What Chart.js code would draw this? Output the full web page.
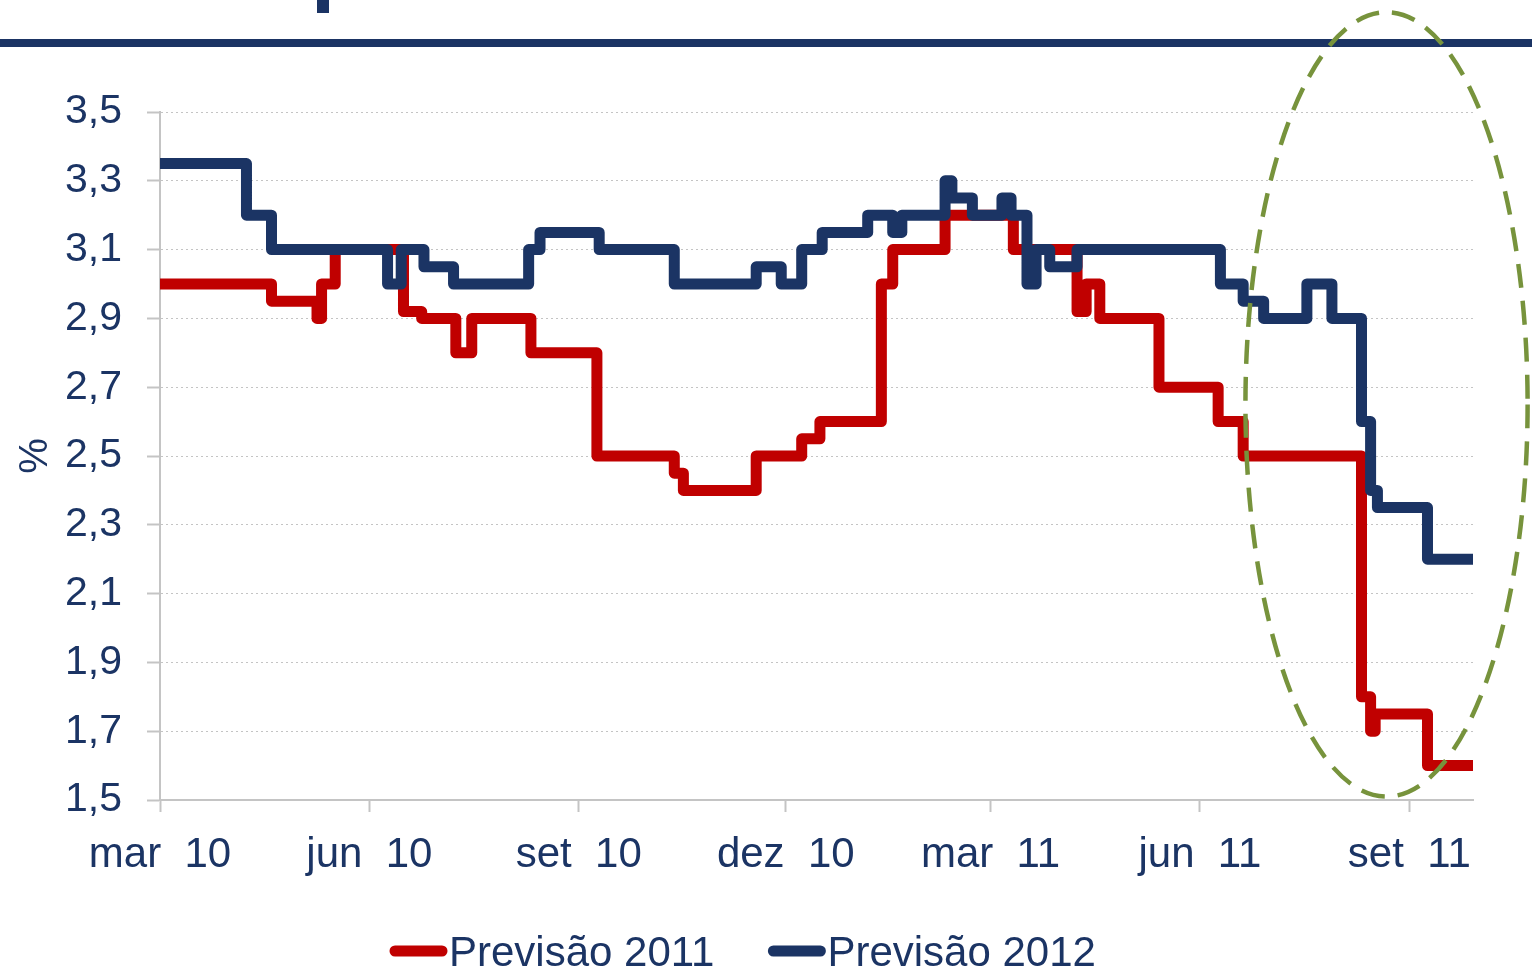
<!DOCTYPE html>
<html lang="pt-BR">
<head>
<meta charset="utf-8">
<title>Previsão 2011 e 2012</title>
<script src="https://cdn.jsdelivr.net/npm/chart.js@4.4.1/dist/chart.umd.min.js"></script>
<style>
  html, body { margin: 0; padding: 0; background: #fff; }
  canvas { display: block; }
</style>
</head>
<body>
<canvas id="previsoes" width="1532" height="971"></canvas>
<script>
const NAVY = '#1b3464';
const RED = '#c00000';
const GRID = '#c4c4c4';
const OLIVE = '#77933c';

// eixo x: dias contados a partir de 1 mar 2010
const startDate = '2010-03-01';
const endDate = '2011-09-29';
const tickDates = ['2010-03-01', '2010-06-01', '2010-09-01', '2010-12-01', '2011-03-01', '2011-06-01', '2011-09-01'];
const tickLabels = ['mar  10', 'jun  10', 'set  10', 'dez  10', 'mar  11', 'jun  11', 'set  11'];

// Previsão 2011 (cada valor vale até a data seguinte)
const dates2011 = [
    '2010-03-01', '2010-04-19', '2010-05-09', '2010-05-11', '2010-05-17', '2010-06-16', '2010-06-24',
    '2010-07-09', '2010-07-16', '2010-08-11', '2010-09-09', '2010-10-13', '2010-10-17', '2010-11-18',
    '2010-12-08', '2010-12-16', '2011-01-12', '2011-01-17', '2011-02-09', '2011-03-11', '2011-04-08',
    '2011-04-12', '2011-04-18', '2011-05-14', '2011-06-09', '2011-06-20', '2011-08-11', '2011-08-15',
    '2011-08-17', '2011-09-09', '2011-09-29'
];
const prev2011 = [
    3.00, 2.95, 2.90, 3.00, 3.10, 2.92, 2.90,
    2.80, 2.90, 2.80, 2.50, 2.45, 2.40, 2.50,
    2.55, 2.60, 3.00, 3.10, 3.20, 3.10, 2.92,
    3.00, 2.90, 2.70, 2.60, 2.50, 1.80, 1.70,
    1.75, 1.60, 1.60
];

// Previsão 2012
const dates2012 = [
    '2010-03-01', '2010-04-08', '2010-04-19', '2010-06-09', '2010-06-15', '2010-06-25', '2010-07-08',
    '2010-08-10', '2010-08-15', '2010-09-10', '2010-10-13', '2010-11-18', '2010-11-29', '2010-12-08',
    '2010-12-17', '2011-01-06', '2011-01-17', '2011-01-21', '2011-02-09', '2011-02-12', '2011-02-21',
    '2011-03-06', '2011-03-10', '2011-03-17', '2011-03-21', '2011-03-27', '2011-04-08', '2011-06-10',
    '2011-06-20', '2011-06-29', '2011-07-18', '2011-07-29', '2011-08-11', '2011-08-15', '2011-08-18',
    '2011-09-09', '2011-09-29'
];
const prev2012 = [
    3.35, 3.20, 3.10, 3.00, 3.10, 3.05, 3.00,
    3.10, 3.15, 3.10, 3.00, 3.05, 3.00, 3.10,
    3.15, 3.20, 3.15, 3.20, 3.30, 3.25, 3.20,
    3.25, 3.20, 3.00, 3.10, 3.05, 3.10, 3.00,
    2.95, 2.90, 3.00, 2.90, 2.60, 2.40, 2.35,
    2.20, 2.20
];

const yMin = 1.5;
const yMax = 3.5;
const yStep = 0.2;

// destaque tracejado em volta das últimas semanas
const highlightCenter = '2011-08-22';
const highlightValue = 2.65;
const highlightHalfDays = 62;
const highlightHalfValue = 1.14;

function dayOf(s) {
    const [y, m, d] = s.split('-').map(Number);
    const [y0, m0, d0] = startDate.split('-').map(Number);
    return (Date.UTC(y, m - 1, d) - Date.UTC(y0, m0 - 1, d0)) / 86400000;
}

const tickDays = tickDates.map(dayOf);
const toPoints = (dates, values) => dates.map((d, i) => ({ x: dayOf(d), y: values[i] }));

Chart.defaults.font.family = '"Liberation Sans", Arial, sans-serif';
Chart.defaults.color = NAVY;

const pageFrame = {
    id: 'pageFrame',
    beforeDraw(chart) {
        const { ctx, width } = chart;
        ctx.save();
        ctx.fillStyle = '#fff';
        ctx.fillRect(0, 0, width, chart.height);
        ctx.fillStyle = NAVY;
        ctx.fillRect(0, 39, width, 8);
        ctx.fillRect(317, 0, 12, 13);
        ctx.restore();
    }
};

const highlight = {
    id: 'highlight',
    afterDraw(chart) {
        const { ctx, scales: { x, y } } = chart;
        const cx = x.getPixelForValue(dayOf(highlightCenter));
        const cy = y.getPixelForValue(highlightValue);
        const rx = x.getPixelForValue(dayOf(highlightCenter) + highlightHalfDays) - cx;
        const ry = cy - y.getPixelForValue(highlightValue + highlightHalfValue);
        ctx.save();
        ctx.strokeStyle = OLIVE;
        ctx.lineWidth = 4.5;
        ctx.setLineDash([24, 13]);
        ctx.beginPath();
        ctx.ellipse(cx, cy, rx, ry, 0, 0, Math.PI * 2);
        ctx.stroke();
        ctx.restore();
    }
};

// legenda desenhada à mão: traço grosso + texto colado
const lineLegend = {
    id: 'lineLegend',
    afterDraw(chart) {
        const { ctx } = chart;
        let x = 390;
        const y = 951;
        ctx.save();
        ctx.font = '42px "Liberation Sans", Arial, sans-serif';
        ctx.textBaseline = 'middle';
        chart.data.datasets.forEach((ds) => {
            ctx.strokeStyle = ds.borderColor;
            ctx.lineWidth = 11;
            ctx.lineCap = 'round';
            ctx.beginPath();
            ctx.moveTo(x + 5, y);
            ctx.lineTo(x + 52, y);
            ctx.stroke();
            ctx.fillStyle = NAVY;
            ctx.fillText(ds.label, x + 59, y + 3);
            x += 59 + ctx.measureText(ds.label).width + 54;
        });
        ctx.restore();
    }
};

new Chart(document.getElementById('previsoes'), {
    type: 'line',
    data: {
        datasets: [
            {
                label: 'Previsão 2011',
                data: toPoints(dates2011, prev2011),
                borderColor: RED,
                backgroundColor: RED,
                order: 1
            },
            {
                label: 'Previsão 2012',
                data: toPoints(dates2012, prev2012),
                borderColor: NAVY,
                backgroundColor: NAVY,
                order: 0
            }
        ]
    },
    options: {
        responsive: false,
        animation: false,
        layout: { padding: { top: 112, right: 59, bottom: 0, left: 0 } },
        elements: {
            line: {
                stepped: true,
                borderWidth: 11,
                borderJoinStyle: 'round',
                borderCapStyle: 'butt',
                tension: 0
            },
            point: { radius: 0 }
        },
        plugins: {
            legend: { display: false },
            tooltip: { enabled: false }
        },
        scales: {
            x: {
                type: 'linear',
                min: 0,
                max: dayOf(endDate),
                afterFit: (scale) => { scale.height = 171; },
                afterBuildTicks: (scale) => { scale.ticks = tickDays.map((v) => ({ value: v })); },
                border: { color: GRID, width: 2 },
                grid: { drawOnChartArea: false, tickLength: 12, color: GRID, tickWidth: 2, tickBorderDash: [] },
                ticks: {
                    autoSkip: false,
                    maxRotation: 0,
                    padding: 18,
                    color: NAVY,
                    font: { size: 42 },
                    callback: (v) => tickLabels[tickDays.indexOf(v)]
                }
            },
            y: {
                min: yMin,
                max: yMax,
                afterFit: (scale) => { scale.width = 160; },
                border: { color: GRID, width: 2, dash: [2, 3] },
                grid: { color: GRID, lineWidth: 1, tickLength: 13, tickWidth: 2, tickColor: GRID, tickBorderDash: [] },
                ticks: {
                    stepSize: yStep,
                    padding: 25,
                    color: NAVY,
                    font: { size: 41 },
                    callback: (v) => v.toFixed(1).replace('.', ',')
                },
                title: {
                    display: true,
                    text: '%',
                    color: NAVY,
                    font: { size: 40 },
                    padding: { top: 12, bottom: 0 }
                }
            }
        }
    },
    plugins: [pageFrame, highlight, lineLegend]
});
</script>
</body>
</html>
